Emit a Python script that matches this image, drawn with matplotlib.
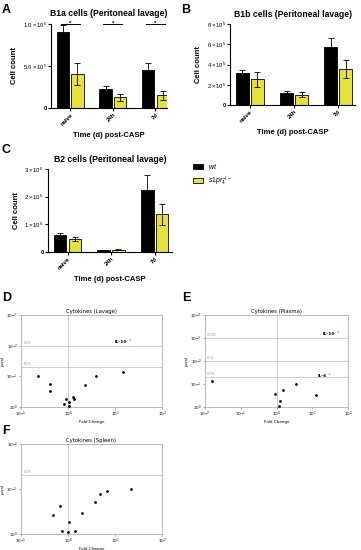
import matplotlib
matplotlib.use("Agg")
import matplotlib.pyplot as plt
import numpy as np
from matplotlib.patches import Patch

plt.rcParams['font.family'] = ['Liberation Sans', 'DejaVu Sans']
plt.rcParams['mathtext.fontset'] = 'custom'
plt.rcParams['mathtext.rm'] = 'Liberation Sans'
plt.rcParams['mathtext.it'] = 'Liberation Sans:italic'
plt.rcParams['mathtext.bf'] = 'Liberation Sans:bold'

# ---------------- data ----------------
groups = ["naive", "24h", "7d"]
series_names = ["wt", "s1pr4-/-"]

b1a_wt = [0.90e6, 0.23e6, 0.45e6]
b1a_wt_err = [0.09e6, 0.035e6, 0.08e6]
b1a_ko = [0.40e6, 0.125e6, 0.15e6]
b1a_ko_err = [0.13e6, 0.04e6, 0.055e6]

b1b_wt = [3.2e5, 1.15e5, 5.75e5]
b1b_wt_err = [0.3e5, 0.2e5, 0.82e5]
b1b_ko = [2.55e5, 1.02e5, 3.55e5]
b1b_ko_err = [0.75e5, 0.23e5, 0.85e5]

b2_wt = [0.60e6, 0.06e6, 2.25e6]
b2_wt_err = [0.09e6, 0.02e6, 0.53e6]
b2_ko = [0.47e6, 0.085e6, 1.37e6]
b2_ko_err = [0.08e6, 0.03e6, 0.38e6]

lav_fc = [0.225, 0.42, 0.42, 0.83, 0.91, 1.05, 1.07, 1.30, 1.32, 2.34, 4.0, 14.5]
lav_p = [0.099, 0.172, 0.29, 0.82, 0.56, 0.70, 0.95, 0.46, 0.53, 0.19, 0.094, 0.073]
lav_hits = ["IL-10"]
lav_hits_fc = [20.0]
lav_hits_p = [0.0075]

pla_fc = [0.016, 0.88, 1.50, 1.24, 1.14, 3.47, 12.8]
pla_p = [0.073, 0.28, 0.175, 0.55, 0.875, 0.096, 0.29]
pla_hits = ["IL-10", "IL-6"]
pla_hits_fc = [50.0, 28.0]
pla_hits_p = [0.00065, 0.045]

spl_fc = [0.47, 0.69, 0.76, 1.02, 1.05, 1.39, 2.02, 3.81, 4.87, 6.84, 21.7]
spl_p = [0.38, 0.237, 0.84, 0.89, 0.53, 0.84, 0.35, 0.197, 0.129, 0.111, 0.102]

YELLOW = '#e6df3c'
W, H = 361, 550

fig = plt.figure(figsize=(W / 100, H / 100), dpi=100)


def rect(l, r, t, b):
    return [l / W, 1 - b / H, (r - l) / W, (b - t) / H]


def bar_panel(ax, wt, wterr, ko, koerr, title, ymax, ticks, ticklabels, xlim, tpad=5):
    x = np.arange(len(groups))
    bw = 0.29
    off = 0.17
    ax.bar(x - off, wt, bw, color='black', edgecolor='black', linewidth=0.6,
           yerr=wterr, error_kw=dict(elinewidth=0.6, capsize=2, capthick=0.6, ecolor='black'))
    ax.bar(x + off, ko, bw, color=YELLOW, edgecolor='black', linewidth=0.6,
           yerr=koerr, error_kw=dict(elinewidth=0.6, capsize=2, capthick=0.6, ecolor='black'))
    ax.set_xlim(*xlim)
    ax.set_ylim(0, ymax)
    ax.set_yticks(ticks)
    ax.set_yticklabels(ticklabels, fontsize=4.2, fontweight='bold')
    ax.set_xticks(x)
    ax.set_xticklabels(groups, rotation=45, ha='right', fontsize=4.3, fontweight='bold',
                       rotation_mode='anchor')
    for s in ['top', 'right']:
        ax.spines[s].set_visible(False)
    for s in ['left', 'bottom']:
        ax.spines[s].set_linewidth(0.8)
    ax.tick_params(axis='both', width=0.8, length=2, pad=1)
    ax.set_title(title, fontsize=6.2, fontweight='bold', pad=tpad)
    ax.set_ylabel('Cell count', fontsize=5.5, fontweight='bold', labelpad=3)
    ax.set_xlabel('Time (d) post-CASP', fontsize=5.5, fontweight='bold', labelpad=4)


axA = fig.add_axes(rect(51, 167, 24, 108))
bar_panel(axA, b1a_wt, b1a_wt_err, b1a_ko, b1a_ko_err, 'B1a cells (Peritoneal lavage)',
          1.0e6, [0, 5e5, 1e6], ['0', r'$5.0\times10^{5}$', r'$1.0\times10^{6}$'], (-0.45, 2.27),
          tpad=6)
for i in range(3):
    axA.plot([i - 0.22, i + 0.22], [1.005e6, 1.005e6], color='black', lw=0.7, clip_on=False)
    axA.text(i, 1.01e6, '*', ha='center', va='center', fontsize=4.5, fontweight='bold')

axB = fig.add_axes(rect(230, 355, 24, 105))
bar_panel(axB, b1b_wt, b1b_wt_err, b1b_ko, b1b_ko_err, 'B1b cells (Peritoneal lavage)',
          8e5, [0, 2e5, 4e5, 6e5, 8e5],
          ['0', r'$2\times10^{5}$', r'$4\times10^{5}$', r'$6\times10^{5}$', r'$8\times10^{5}$'],
          (-0.45, 2.38))

axC = fig.add_axes(rect(48, 172, 169, 252))
bar_panel(axC, b2_wt, b2_wt_err, b2_ko, b2_ko_err, 'B2 cells (Peritoneal lavage)',
          3e6, [0, 1e6, 2e6, 3e6],
          ['0', r'$1\times10^{6}$', r'$2\times10^{6}$', r'$3\times10^{6}$'], (-0.45, 2.4))
handles = [Patch(facecolor='black', edgecolor='black', linewidth=0.6),
           Patch(facecolor=YELLOW, edgecolor='black', linewidth=0.6)]
fig.legend(handles, [r'$wt$', r'$s1pr_{4}^{-/-}$'], loc='upper left',
           bbox_to_anchor=(188 / W, 1 - 157 / H), frameon=False, fontsize=5, handlelength=1.4,
           handleheight=0.8, labelspacing=0.5, borderpad=0.2)


def scatter_panel(ax, fc, p, hits, hfc, hp, title, xlim, ylim, thresholds):
    ax.set_xscale('log')
    ax.set_yscale('log')
    ax.set_xlim(*xlim)
    ax.set_ylim(*ylim)
    ax.axvline(1, color='#c8c8c8', lw=0.6, zorder=0)
    for t in thresholds:
        ax.axhline(t, color='#c8c8c8', lw=0.6, ls='-', zorder=0)
        ax.text(xlim[0] * 1.12, t * 0.93, f'{t:g}', fontsize=2.5, color='#999999',
                ha='left', va='bottom', family='DejaVu Sans')
    ax.scatter(fc, p, s=4, color='black', zorder=3, linewidths=0)
    for name, x, y in zip(hits, hfc, hp):
        ax.text(x * 0.9, y, name, fontsize=3.2, fontweight='bold', ha='right', va='center',
                family='DejaVu Sans', zorder=4)
        ax.text(x, y * 0.93, '*', fontsize=4, color='#55bb22', ha='left', va='center',
                family='DejaVu Sans', zorder=4)
    for s in ax.spines.values():
        s.set_color('#b0b0b0')
        s.set_linewidth(0.6)
    ax.tick_params(axis='both', which='major', labelsize=3, length=1.5, width=0.5, pad=0.8,
                   color='#888888')
    ax.tick_params(axis='both', which='minor', length=0)
    for lab in ax.get_xticklabels() + ax.get_yticklabels():
        lab.set_family('DejaVu Sans')
    ax.set_title(title, fontsize=3.8, pad=1.5, family='DejaVu Sans')
    ax.set_xlabel('Fold Change', fontsize=3, labelpad=0.5, family='DejaVu Sans')
    ax.set_ylabel('p-val', fontsize=3, labelpad=1, family='DejaVu Sans')


axD = fig.add_axes(rect(21, 162, 315, 407))
scatter_panel(axD, lav_fc, lav_p, lav_hits, lav_hits_fc, lav_hits_p, 'Cytokines (Lavage)',
              (0.1, 100), (1, 1e-3), [0.01, 0.05])
axD.set_xticks([0.1, 1, 10, 100])
axD.set_yticks([1, 0.1, 0.01, 0.001])

axE = fig.add_axes(rect(205, 348, 315, 407))
scatter_panel(axE, pla_fc, pla_p, pla_hits, pla_hits_fc, pla_hits_p, 'Cytokines (Plasma)',
              (0.01, 100), (1, 1e-4), [0.001, 0.01, 0.05])
axE.set_xticks([0.01, 0.1, 1, 10, 100])
axE.set_yticks([1, 0.1, 0.01, 0.001, 0.0001])

axF = fig.add_axes(rect(21, 162, 444, 534))
scatter_panel(axF, spl_fc, spl_p, [], [], [], 'Cytokines (Spleen)',
              (0.1, 100), (1, 1e-2), [0.05])
axF.set_xticks([0.1, 1, 10, 100])
axF.set_yticks([1, 0.1, 0.01])

for lab, (px, py) in zip('ABCDEF', [(2, 10), (181, 10), (2, 150), (2, 298), (182, 298), (2, 431)]):
    fig.text(px / W, 1 - py / H, lab, fontsize=9, fontweight='bold', ha='left', va='center')

fig.savefig('out.png', dpi=100)
